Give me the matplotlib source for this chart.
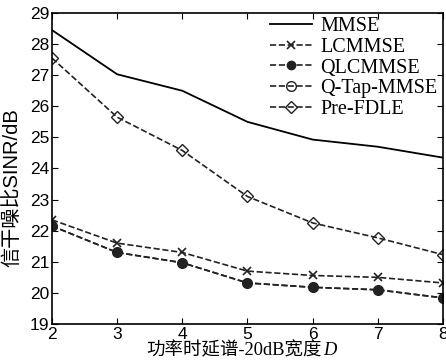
import matplotlib
matplotlib.use("Agg")
import matplotlib.pyplot as plt
from matplotlib.offsetbox import TextArea, HPacker, AnchoredOffsetbox

D = [2, 3, 4, 5, 6, 7, 8]
mmse = [28.45, 27.03, 26.5, 25.5, 24.93, 24.7, 24.35]
lcmmse = [22.35, 21.6, 21.3, 20.7, 20.56, 20.5, 20.32]
qlcmmse = [22.15, 21.3, 20.97, 20.32, 20.18, 20.1, 19.84]
qtap = [22.15, 21.3, 20.97, 20.32, 20.18, 20.1, 19.84]
prefdle = [27.55, 25.65, 24.58, 23.1, 22.25, 21.77, 21.23]
yticks = list(range(19, 30))
xticks = D

fam = ['Liberation Serif', 'Noto Sans CJK SC']
fig = plt.figure(figsize=(4.46, 3.61), dpi=100)
ax = fig.add_axes([0.1166, 0.1025, 0.8764, 0.8615])

c = '#222222'
ax.plot(D, mmse, '-', color='black', lw=1.3, label='MMSE')
ax.plot(D, lcmmse, '--', color=c, lw=1.2, marker='x', ms=6, mew=1.2, label='LCMMSE')
ax.plot(D, qlcmmse, '--', color=c, lw=1.2, marker='o', ms=6, mfc=c, label='QLCMMSE')
ax.plot(D, qtap, '--', color=c, lw=1.2, marker='o', ms=7, mfc='none', mew=1.0, label='Q-Tap-MMSE')
ax.plot(D, prefdle, '--', color=c, lw=1.2, marker='D', ms=6, mfc='none', mew=1.0, label='Pre-FDLE')

ax.set_xlim(2, 8)
ax.set_ylim(19, 29)
ax.set_xticks(xticks)
ax.set_yticks(yticks)
ax.tick_params(direction='in', top=True, right=True, labelsize=12.5, length=4, pad=2,
               labelfontfamily='Liberation Sans')
for s in ax.spines.values():
    s.set_linewidth(1.2)

ax.set_ylabel('信干噪比SINR/dB', family=['Liberation Sans', 'Noto Sans CJK SC'], fontsize=14.5)
ax.yaxis.set_label_coords(-0.078, 0.44)

t1 = TextArea('功率时延谱-20dB宽度', textprops=dict(family=fam, fontsize=13.3))
t2 = TextArea('D', textprops=dict(family='Liberation Serif', style='italic', fontsize=13.3))
box = HPacker(children=[t1, t2], pad=0, sep=1, align='baseline')
ab = AnchoredOffsetbox(loc='upper center', child=box, pad=0, frameon=False,
                       bbox_to_anchor=(0.485, -0.057), bbox_transform=ax.transAxes,
                       borderpad=0)
ax.add_artist(ab)

leg = ax.legend(loc='upper right', frameon=False, prop={'family': 'Liberation Serif', 'size': 14.5},
                handlelength=2.1, labelspacing=0.08, handletextpad=0.4,
                borderaxespad=0.0, borderpad=0.2, bbox_to_anchor=(0.997, 1.0))

fig.savefig('out.png', dpi=100)
